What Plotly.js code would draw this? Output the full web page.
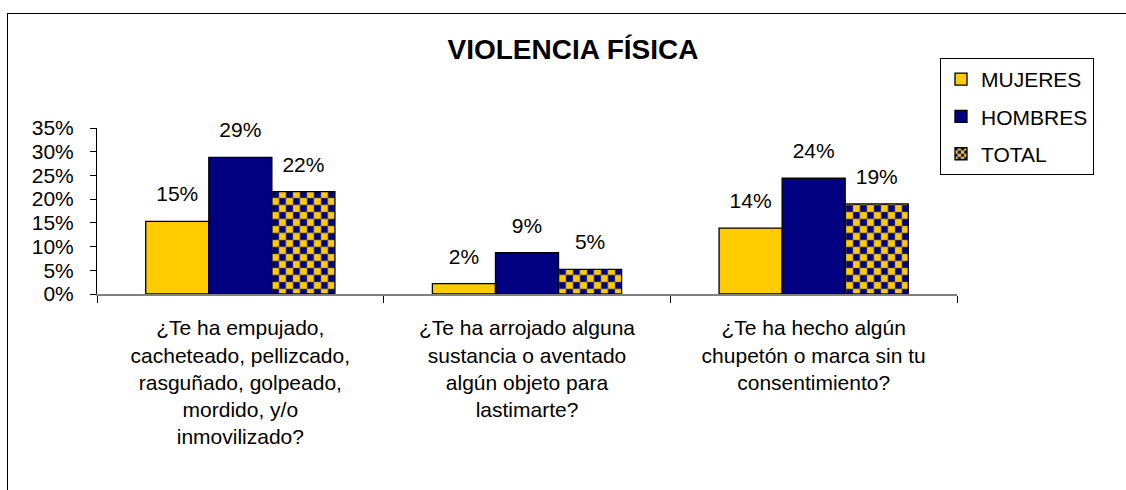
<!DOCTYPE html>
<html>
<head>
<meta charset="utf-8">
<script src="https://cdn.plot.ly/plotly-3.0.1.min.js"></script>
<style>
  html, body { margin: 0; padding: 0; background: #fff; overflow: hidden; }
  #chart { position: absolute; left: 0; top: 0; width: 1126px; height: 490px; }
  #frame { position: absolute; left: 7px; top: 13px; width: 1300px; height: 700px;
           border: 1.5px solid #000; pointer-events: none; }
</style>
</head>
<body>
<div id="chart"></div>
<div id="frame"></div>
<script>
const categories = [
  "¿Te ha empujado,<br>cacheteado, pellizcado,<br>rasguñado, golpeado,<br>mordido, y/o<br>inmovilizado?",
  "¿Te ha arrojado alguna<br>sustancia o aventado<br>algún objeto para<br>lastimarte?",
  "¿Te ha hecho algún<br>chupetón o marca sin tu<br>consentimiento?"
];
const seriesNames = ["MUJERES", "HOMBRES", "TOTAL"];
const mujeres = [0.153, 0.022, 0.139];
const hombres = [0.288, 0.087, 0.244];
const total = [0.216, 0.052, 0.19];
const yTicks = [0, 0.05, 0.10, 0.15, 0.20, 0.25, 0.30, 0.35];

const GOLD = "#FFCC00", NAVY = "#000080";
const FONT = "Liberation Sans, Arial, sans-serif";
const values = [mujeres, hombres, total];

function barTrace(i) {
  const t = {
    type: "bar", name: seriesNames[i], x: categories, y: values[i],
    legendgroup: "g" + i,
    marker: { color: i === 1 ? NAVY : GOLD, line: { color: "#000", width: 1.3 } },
    hoverinfo: "skip"
  };
  if (i === 2) {
    t.marker.pattern = { shape: ".", fgcolor: NAVY, bgcolor: GOLD, size: 14, solidity: 0.4, fillmode: "replace" };
  }
  return t;
}
function labelTrace(i) {
  return {
    type: "scatter", mode: "markers+text", x: categories, y: values[i],
    showlegend: false, hoverinfo: "skip", cliponaxis: false,
    marker: { size: 22, color: "rgba(0,0,0,0)" },
    texttemplate: "%{y:.0%}", textposition: "top center",
    textfont: { family: FONT, size: 21, color: "#000" }
  };
}

const data = [barTrace(0), barTrace(1), barTrace(2), labelTrace(0), labelTrace(1), labelTrace(2)];

const layout = {
  width: 1126, height: 490,
  margin: { l: 97, r: 169, t: 128, b: 196, autoexpand: false },
  paper_bgcolor: "#fff", plot_bgcolor: "#fff",
  barmode: "group", bargap: 0.34, bargroupgap: 0,
  scattermode: "group", scattergap: 0.34,
  hovermode: false,
  font: { family: FONT, color: "#000" },
  title: {
    text: "<b>VIOLENCIA FÍSICA</b>",
    font: { family: FONT, size: 28, color: "#000" },
    xref: "container", yref: "container",
    x: 573 / 1126, xanchor: "center",
    y: 1 - 49 / 490, yanchor: "middle"
  },
  xaxis: {
    type: "category",
    showline: true, linecolor: "#808080", linewidth: 2,
    ticks: "outside", tickson: "boundaries", ticklen: 7, tickcolor: "#000", tickwidth: 1,
    tickfont: { family: FONT, size: 21, color: "#000" },
    ticklabelstandoff: 14,
    showgrid: false, zeroline: false
  },
  yaxis: {
    range: [0, 0.35], tickvals: yTicks, tickformat: ".0%",
    showline: true, linecolor: "#000", linewidth: 1,
    ticks: "outside", ticklen: 6, tickcolor: "#000",
    tickfont: { family: FONT, size: 21, color: "#000" },
    ticklabelstandoff: 12,
    showgrid: false, zeroline: false
  },
  legend: {
    xref: "container", yref: "container",
    x: 940 / 1126, xanchor: "left",
    y: 1 - 58 / 490, yanchor: "top",
    bgcolor: "#fff", bordercolor: "#000", borderwidth: 1,
    font: { family: FONT, size: 21, color: "#000" },
    traceorder: "grouped", tracegroupgap: 7
  },
  showlegend: true
};

function checkerPatterns() {
  const ns = "http://www.w3.org/2000/svg";
  document.querySelectorAll("#chart pattern").forEach(p => {
    const w = parseFloat(p.getAttribute("width")) || 14;
    const c = w >= 12 ? 7 : 4;
    p.setAttribute("width", 2 * c);
    p.setAttribute("height", 2 * c);
    while (p.firstChild) p.removeChild(p.firstChild);
    const mk = (x, y, s, fill) => {
      const r = document.createElementNS(ns, "rect");
      r.setAttribute("x", x); r.setAttribute("y", y);
      r.setAttribute("width", s); r.setAttribute("height", s);
      r.setAttribute("fill", fill);
      r.setAttribute("stroke", "#8a7a40"); r.setAttribute("stroke-width", 0.6);
      p.appendChild(r);
    };
    mk(0, 0, c, NAVY); mk(c, 0, c, GOLD); mk(0, c, c, GOLD); mk(c, c, c, NAVY);
  });
}

Plotly.newPlot("chart", data, layout, { displayModeBar: false, staticPlot: true }).then(checkerPatterns);
</script>
</body>
</html>
